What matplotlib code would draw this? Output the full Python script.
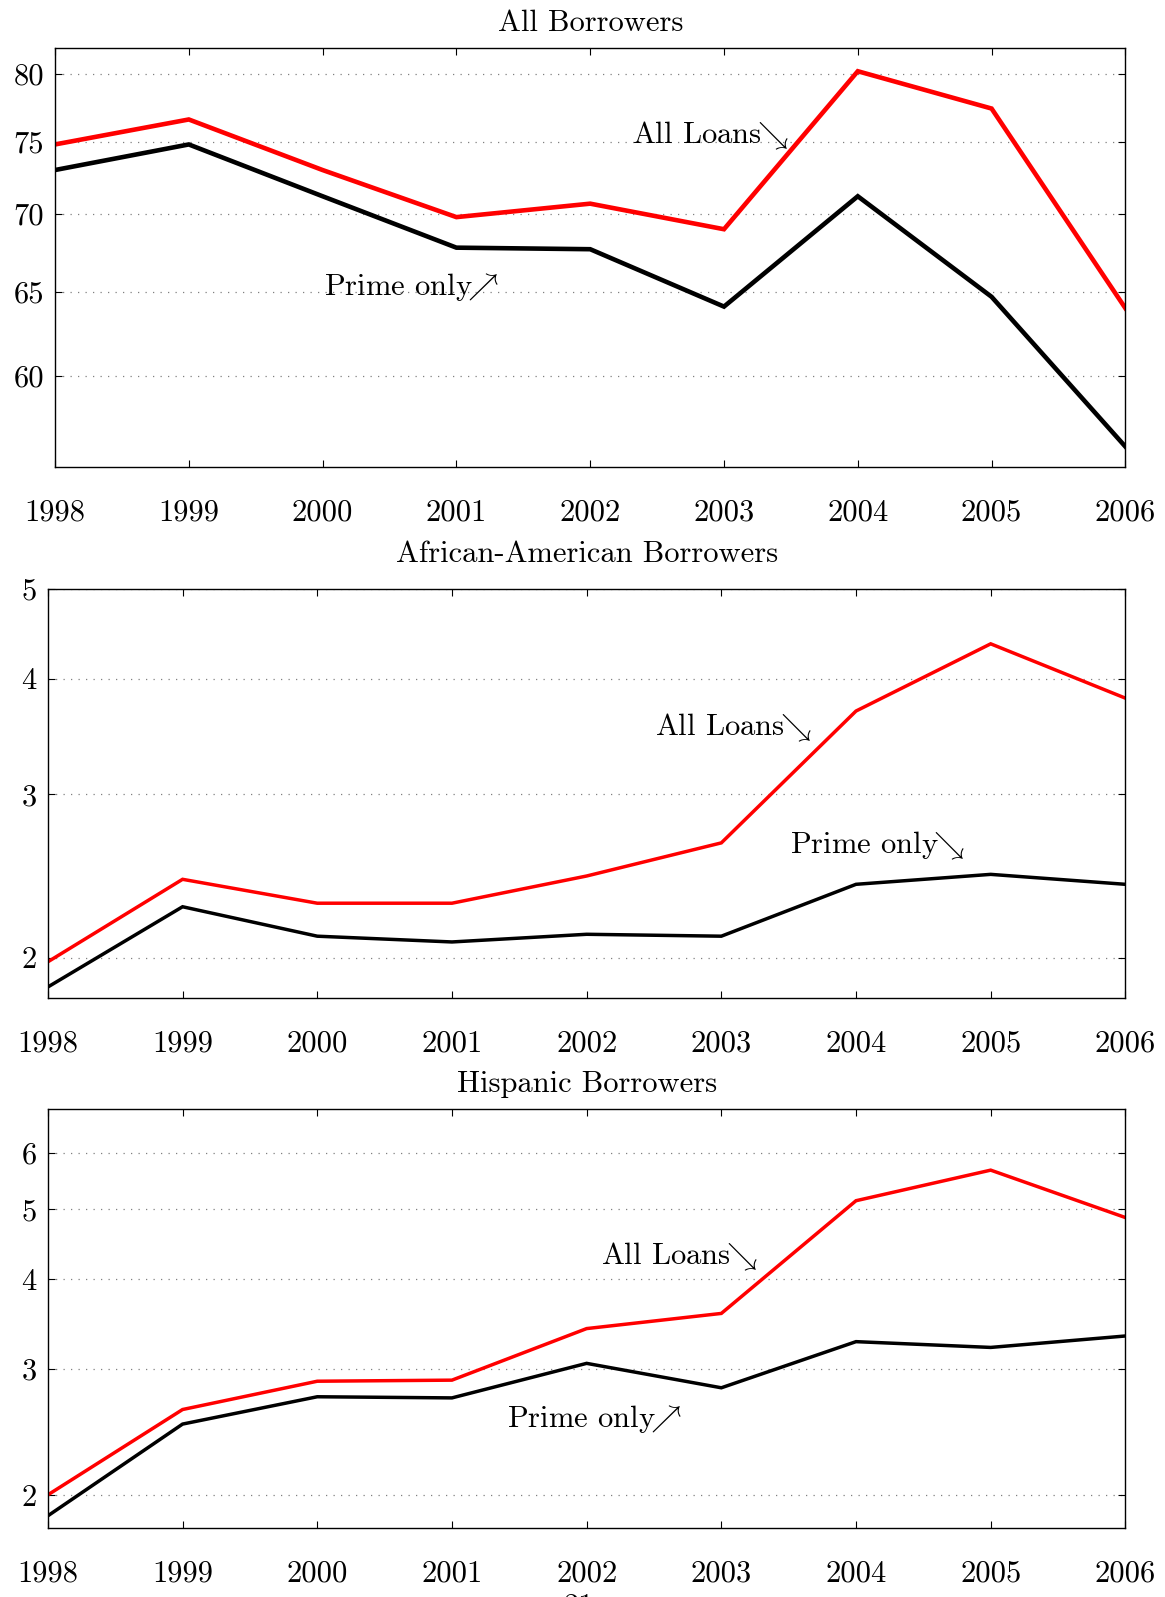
import matplotlib
matplotlib.use("Agg")
import matplotlib.pyplot as plt
from matplotlib.ticker import NullLocator, FixedLocator, FixedFormatter

plt.rcParams['font.family'] = ['cmr10', 'DejaVu Serif']
plt.rcParams['mathtext.fontset'] = 'cm'
plt.rcParams['axes.unicode_minus'] = False
plt.rcParams['axes.formatter.use_mathtext'] = True

years = [1998, 1999, 2000, 2001, 2002, 2003, 2004, 2005, 2006]

# All borrowers
all_loans_total = [74.8, 76.6, 73.0, 69.8, 70.7, 69.0, 80.2, 77.4, 64.0]
prime_total = [73.0, 74.8, 71.2, 67.8, 67.7, 64.1, 71.2, 64.7, 56.1]

# African-American borrowers
all_loans_aa = [1.98, 2.43, 2.29, 2.29, 2.45, 2.66, 3.69, 4.36, 3.81]
prime_aa = [1.86, 2.27, 2.11, 2.08, 2.12, 2.11, 2.40, 2.46, 2.40]

# Hispanic borrowers
all_loans_hisp = [2.00, 2.63, 2.88, 2.89, 3.41, 3.58, 5.14, 5.67, 4.87]
prime_hisp = [1.87, 2.51, 2.74, 2.73, 3.05, 2.82, 3.27, 3.21, 3.33]

titles = ["All Borrowers", "African-American Borrowers", "Hispanic Borrowers"]
yticks = [[60, 65, 70, 75, 80], [2, 3, 4, 5], [2, 3, 4, 5, 6]]
ylims = [(55, 82), (1.81, 5.0), (1.80, 6.9)]

fs = 22
fig = plt.figure(figsize=(11.65, 15.97), dpi=100)

# axes boxes [left, bottom, width, height]
boxes = [[0.0472, 0.7073, 0.9188, 0.2627],
         [0.0411, 0.3751, 0.9249, 0.2563],
         [0.0411, 0.0434, 0.9249, 0.2622]]
title_pads = [12, 19, 12]
lws = [3.3, 2.5, 2.5]

series = [(all_loans_total, prime_total),
          (all_loans_aa, prime_aa),
          (all_loans_hisp, prime_hisp)]

# annotations: (text, x, y)
sw = "$\\!\\!\\searrow$"
ne = "$\\!\\!\\nearrow$"
notes = [[("All Loans" + sw, 2002.31, 75.4), ("Prime only" + ne, 2000.01, 65.3)],
         [("All Loans" + sw, 2002.51, 3.54), ("Prime only" + sw, 2003.51, 2.64)],
         [("All Loans" + sw, 2002.11, 4.29), ("Prime only" + ne, 2001.41, 2.55)]]

for i in range(3):
    ax = fig.add_axes(boxes[i])
    red, black = series[i]
    ax.plot(years, red, color='#ff0000', lw=lws[i], solid_joinstyle='miter')
    ax.plot(years, black, color='black', lw=lws[i], solid_joinstyle='miter')
    ax.set_yscale('log')
    ax.set_ylim(*ylims[i])
    ax.set_xlim(1998, 2006)
    ax.yaxis.set_major_locator(FixedLocator(yticks[i]))
    ax.yaxis.set_major_formatter(FixedFormatter([str(t) for t in yticks[i]]))
    ax.yaxis.set_minor_locator(NullLocator())
    ax.set_xticks(years)
    ax.set_xticklabels([str(y) for y in years])
    ax.tick_params(axis='x', direction='in', top=True, length=5, pad=23, labelsize=fs)
    ax.tick_params(axis='y', direction='in', right=True, length=5, pad=8, labelsize=fs)
    ax.grid(axis='y', color='gray', linestyle=(0, (1, 5)), lw=0.9)
    for s in ax.spines.values():
        s.set_linewidth(1.0)
    ax.set_title(titles[i], fontsize=fs, pad=title_pads[i])
    for txt, x, y in notes[i]:
        ax.text(x, y, txt, fontsize=fs, ha='left', va='center')

fig.text(0.497, 0.002, "21", fontsize=fs, ha='center', va='top')

fig.savefig("out.png", dpi=100)
